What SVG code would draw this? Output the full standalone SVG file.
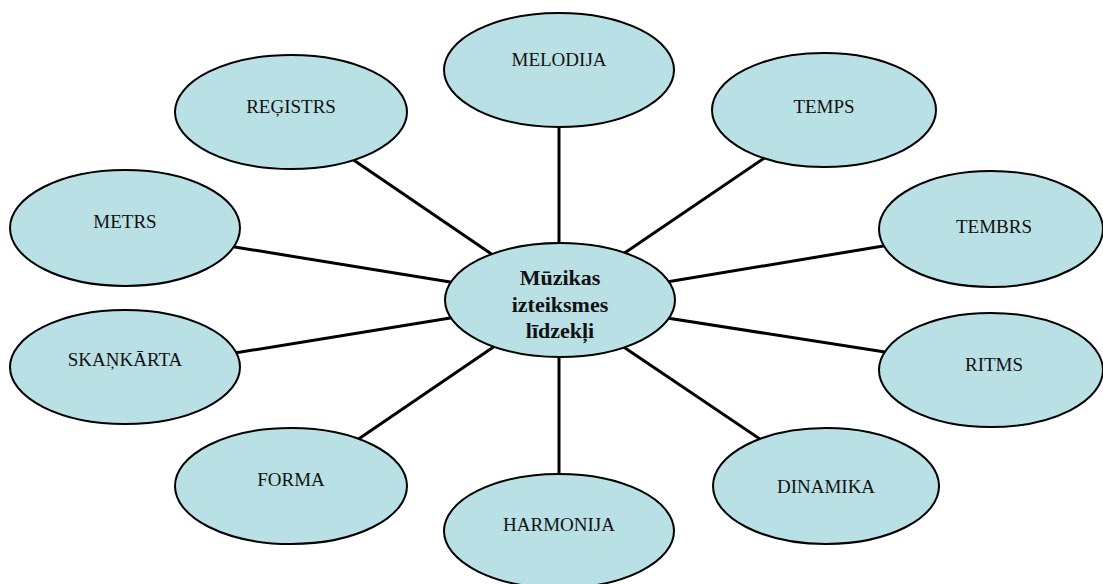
<svg xmlns="http://www.w3.org/2000/svg" width="1103" height="584" viewBox="0 0 1103 584">
  <style>
    .node ellipse { fill: #b9e0e4; stroke: #000; stroke-width: 2; }
    .node text { font-family: "Liberation Serif", "Times New Roman", serif; font-size: 19px; fill: #111; text-anchor: middle; }
    #hub text { font-weight: bold; font-size: 22px; }
    #connectors line { stroke: #000; stroke-width: 3; }
  </style>
  <rect width="1103" height="584" fill="#fff"/>

  <!-- spokes from the hub to each element -->
  <g id="connectors">
    <line x1="559" y1="120" x2="559" y2="252"/>
    <line x1="559" y1="350" x2="559" y2="480"/>
    <line x1="351.4" y1="158.5" x2="496.6" y2="257.5"/>
    <line x1="766.6" y1="156.5" x2="619.4" y2="256.5"/>
    <line x1="227.1" y1="245.7" x2="457.9" y2="283.3"/>
    <line x1="890.9" y1="244.7" x2="659.1" y2="283.3"/>
    <line x1="227.1" y1="354.3" x2="457.9" y2="316.7"/>
    <line x1="892.9" y1="353.2" x2="659.1" y2="316.8"/>
    <line x1="353.4" y1="442.5" x2="498.6" y2="343.5"/>
    <line x1="766.6" y1="443.5" x2="618.4" y2="343.5"/>
  </g>

  <g id="hub" class="node">
    <ellipse cx="560" cy="300" rx="115" ry="57"/>
    <text x="560" y="285">Mūzikas</text>
    <text x="560" y="312">izteiksmes</text>
    <text x="560" y="338">līdzekļi</text>
  </g>

  <g id="melodija" class="node">
    <ellipse cx="559" cy="70" rx="115" ry="57"/>
    <text x="559" y="66">MELODIJA</text>
  </g>

  <g id="harmonija" class="node">
    <ellipse cx="559" cy="531" rx="115" ry="57"/>
    <text x="559" y="531">HARMONIJA</text>
  </g>

  <g id="registrs" class="node">
    <ellipse cx="291" cy="112" rx="116" ry="57"/>
    <text x="291" y="113">REĢISTRS</text>
  </g>

  <g id="temps" class="node">
    <ellipse cx="824" cy="110" rx="112" ry="57"/>
    <text x="824" y="113">TEMPS</text>
  </g>

  <g id="metrs" class="node">
    <ellipse cx="125" cy="228" rx="115" ry="58"/>
    <text x="125" y="228">METRS</text>
  </g>

  <g id="tembrs" class="node">
    <ellipse cx="991" cy="229" rx="112" ry="58"/>
    <text x="994" y="233">TEMBRS</text>
  </g>

  <g id="skankarta" class="node">
    <ellipse cx="125" cy="367" rx="115" ry="57"/>
    <text x="125" y="366">SKAŅKĀRTA</text>
  </g>

  <g id="ritms" class="node">
    <ellipse cx="991" cy="370" rx="112" ry="57"/>
    <text x="994" y="371">RITMS</text>
  </g>

  <g id="forma" class="node">
    <ellipse cx="291" cy="486" rx="116" ry="58"/>
    <text x="291" y="486">FORMA</text>
  </g>

  <g id="dinamika" class="node">
    <ellipse cx="826" cy="486" rx="113" ry="58"/>
    <text x="826" y="493">DINAMIKA</text>
  </g>
</svg>
